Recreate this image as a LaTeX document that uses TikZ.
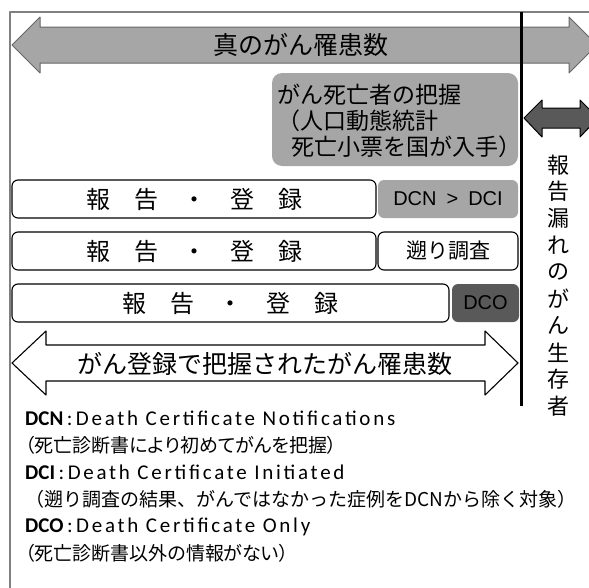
\documentclass[tikz,border=0pt]{standalone}
\usepackage{fontspec}
\setmainfont{Noto Sans CJK JP}
\newfontfamily\legendjp[RawFeature=+palt]{Noto Sans CJK JP}
\newfontfamily\legendlat[LetterSpace=13]{Carlito}
\newfontfamily\legendkey{Carlito}
\newfontfamily\boxlat{Liberation Sans}
\newcommand\legkey[1]{{\legendkey\bfseries #1}\,:\,}
\definecolor{lightfill}{HTML}{A6A6A6}
\definecolor{darkfill}{HTML}{595959}
\tikzset{
  regbox/.style={draw, line width=1.1pt, rounded corners=6pt, minimum height=38pt, inner sep=0pt},
  sidebox/.style={rounded corners=6pt, minimum height=38pt, inner sep=0pt, font=\boxlat\fontsize{20}{20}\selectfont},
  legline/.style={anchor=west, inner sep=3pt}
}
\begin{document}
\begin{tikzpicture}[x=1pt, y=-1pt, line join=round, font=\fontsize{24}{24}\selectfont]
\useasboundingbox (0,0) rectangle (589,587);
\clip (0,0) rectangle (589,587);
\draw[gray, line width=1.2pt] (10,600) -- (10,12) -- (600,12);
% true incidence
\draw[fill=lightfill, draw=black!60, line width=1pt] (12,45) -- (40,17) -- (40,27) -- (569,27) -- (569,17) -- (597,45)
  -- (569,73) -- (569,63) -- (40,63) -- (40,73) -- cycle;
\node[font=\fontsize{25}{25}\selectfont] (true) at (301,45) {真のがん罹患数};
\fill[lightfill, rounded corners=10pt] (272,73) rectangle (518,166);
\node[anchor=west, align=left, font=\fontsize{23}{26}\selectfont] (death) at (274,121)
  {がん死亡者の把握\\（人口動態統計\\\hspace*{14pt}死亡小票を国が入手）};
% registry rows
\node[regbox, minimum width=364pt] (reg1) at (194,199) {報　告　・　登　録};
\node[sidebox, fill=lightfill, minimum width=140pt] (dcn) at (448,199) {DCN\hspace{10pt}>\hspace{10pt}DCI};
\node[regbox, minimum width=364pt] (reg2) at (194,251) {報　告　・　登　録};
\node[regbox, sidebox, font=\fontsize{21}{21}\selectfont, minimum width=140pt] (retro) at (448,251) {遡り調査};
\node[regbox, minimum width=437pt] (reg3) at (230.5,303) {報　告　・　登　録};
\node[sidebox, fill=darkfill, minimum width=67pt] (dco) at (485.5,303) {DCO};
\draw[fill=white, line width=1.1pt] (12,363) -- (46,331) -- (46,345) -- (485,345) -- (485,331) -- (518,363)
  -- (485,395) -- (485,381) -- (46,381) -- (46,395) -- cycle;
\node[font=\fontsize{25}{25}\selectfont] (found) at (265,364) {がん登録で把握されたがん罹患数};
% unreported survivors
\draw[line width=3pt] (521,12) -- (521,406);
\draw[fill=darkfill, line width=1pt] (524,118) -- (542,100) -- (542,108) -- (580,108) -- (580,100) -- (598,118)
  -- (580,137) -- (580,128) -- (542,128) -- (542,137) -- cycle;
\foreach \c [count=\i] in {報,告,漏,れ,の,が,ん,生,存,者}
  \node[font=\fontsize{22}{22}\selectfont] (v\i) at (558,138+\i*26.8) {\c};
% legend
\node[legline, font=\legendlat\fontsize{21}{21}\selectfont] (dcnkey) at (22,418) {\legkey{DCN}Death Certificate Notifications};
\node[legline, font=\legendjp\fontsize{19}{19}\selectfont] (dcntext) at (22,445) {（死亡診断書により初めてがんを把握）};
\node[legline, font=\legendlat\fontsize{21}{21}\selectfont] (dcikey) at (22,472) {\legkey{DCI}Death Certificate Initiated};
\node[legline, font=\fontsize{19}{19}\selectfont] (dcitext) at (22,499) {（遡り調査の結果、がんではなかった症例をDCNから除く対象）};
\node[legline, font=\legendlat\fontsize{21}{21}\selectfont] (dcokey) at (22,527) {\legkey{DCO}Death Certificate Only};
\node[legline, font=\legendjp\fontsize{19}{19}\selectfont] (dcotext) at (22,553) {（死亡診断書以外の情報がない）};
\end{tikzpicture}
\end{document}
